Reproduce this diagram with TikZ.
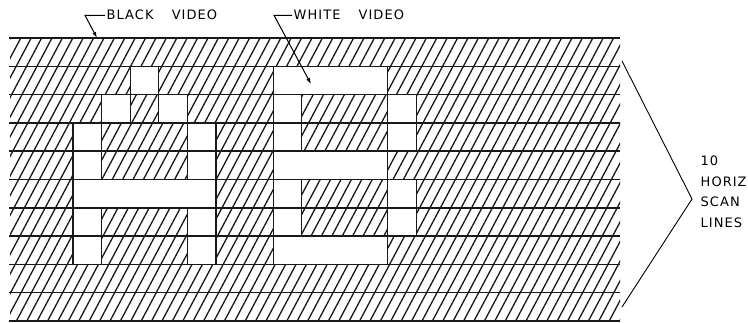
\documentclass[tikz,border=0pt]{standalone}
\usepackage{fontspec}
\usetikzlibrary{arrows.meta}
\newfontfamily\lblfont[LetterSpace=8]{DejaVu Sans}
\newcommand{\cellw}{28.6}
\newcommand{\cellh}{28.3}

\begin{document}
\begin{tikzpicture}[x=1pt, y=-1pt,
        scan/.style={line width=1.5pt, black!90},
        hatch/.style={line width=1.3pt, black!90},
        lbl/.style={font=\lblfont\fontsize{13}{20.7}\selectfont, inner sep=1.5pt, align=left},
        lead/.style={line width=1pt, -{Latex[length=6pt,width=4pt]}}]
        \useasboundingbox (0,0) rectangle (748,323);

        \begin{scope}
            \clip (10,38) rectangle (620,321);
            \foreach \i in {0,...,75} \draw[hatch] ({-150+\i*10.4},321) -- ++(150,-283);
        \end{scope}

        \foreach \r/\a/\b in {1/2/2, 1/7/10, 2/1/1, 2/3/3, 2/7/7, 2/11/11,
                3/0/0, 3/4/4, 3/7/7, 3/11/11, 4/0/0, 4/4/4, 4/7/10,
                5/0/4, 5/7/7, 5/11/11, 6/0/0, 6/4/4, 6/7/7, 6/11/11,
                7/0/0, 7/4/4, 7/7/10} {
            \fill[white] ({73+\a*\cellw},{38+\r*\cellh}) rectangle ({73+(\b+1)*\cellw},{38+(\r+1)*\cellh});
            \draw[hatch] ({73+\a*\cellw},{38+\r*\cellh}) -- ++(0,\cellh)
                ({73+(\b+1)*\cellw},{38+\r*\cellh}) -- ++(0,\cellh);
        }
        \foreach \r in {0,...,10} \draw[scan] (9,{38+\r*\cellh}) -- (620,{38+\r*\cellh});

        \node[lbl, anchor=base west] (black) at (105,20) {BLACK\hspace{1.4em}VIDEO};
        \node[lbl, anchor=base west] (white) at (292,20) {WHITE\hspace{1.4em}VIDEO};
        \coordinate (blacktip) at (97,38);
        \coordinate (whitetip) at (311,84);
        \draw[lead] (black.west) -- ++(-20,0) -- (blacktip);
        \draw[lead] (white.west) -- ++(-18,0) -- (whitetip);

        \coordinate (brtop) at (622,61);
        \coordinate (brtip) at (692,199);
        \coordinate (brbot) at (622,307);
        \draw[line width=0.9pt] (brtop) -- (brtip) -- (brbot);
        \node[lbl, anchor=north west] (scanlbl) at (699,154) {10\\HORIZ\\SCAN\\LINES};
    \end{tikzpicture}
\end{document}
